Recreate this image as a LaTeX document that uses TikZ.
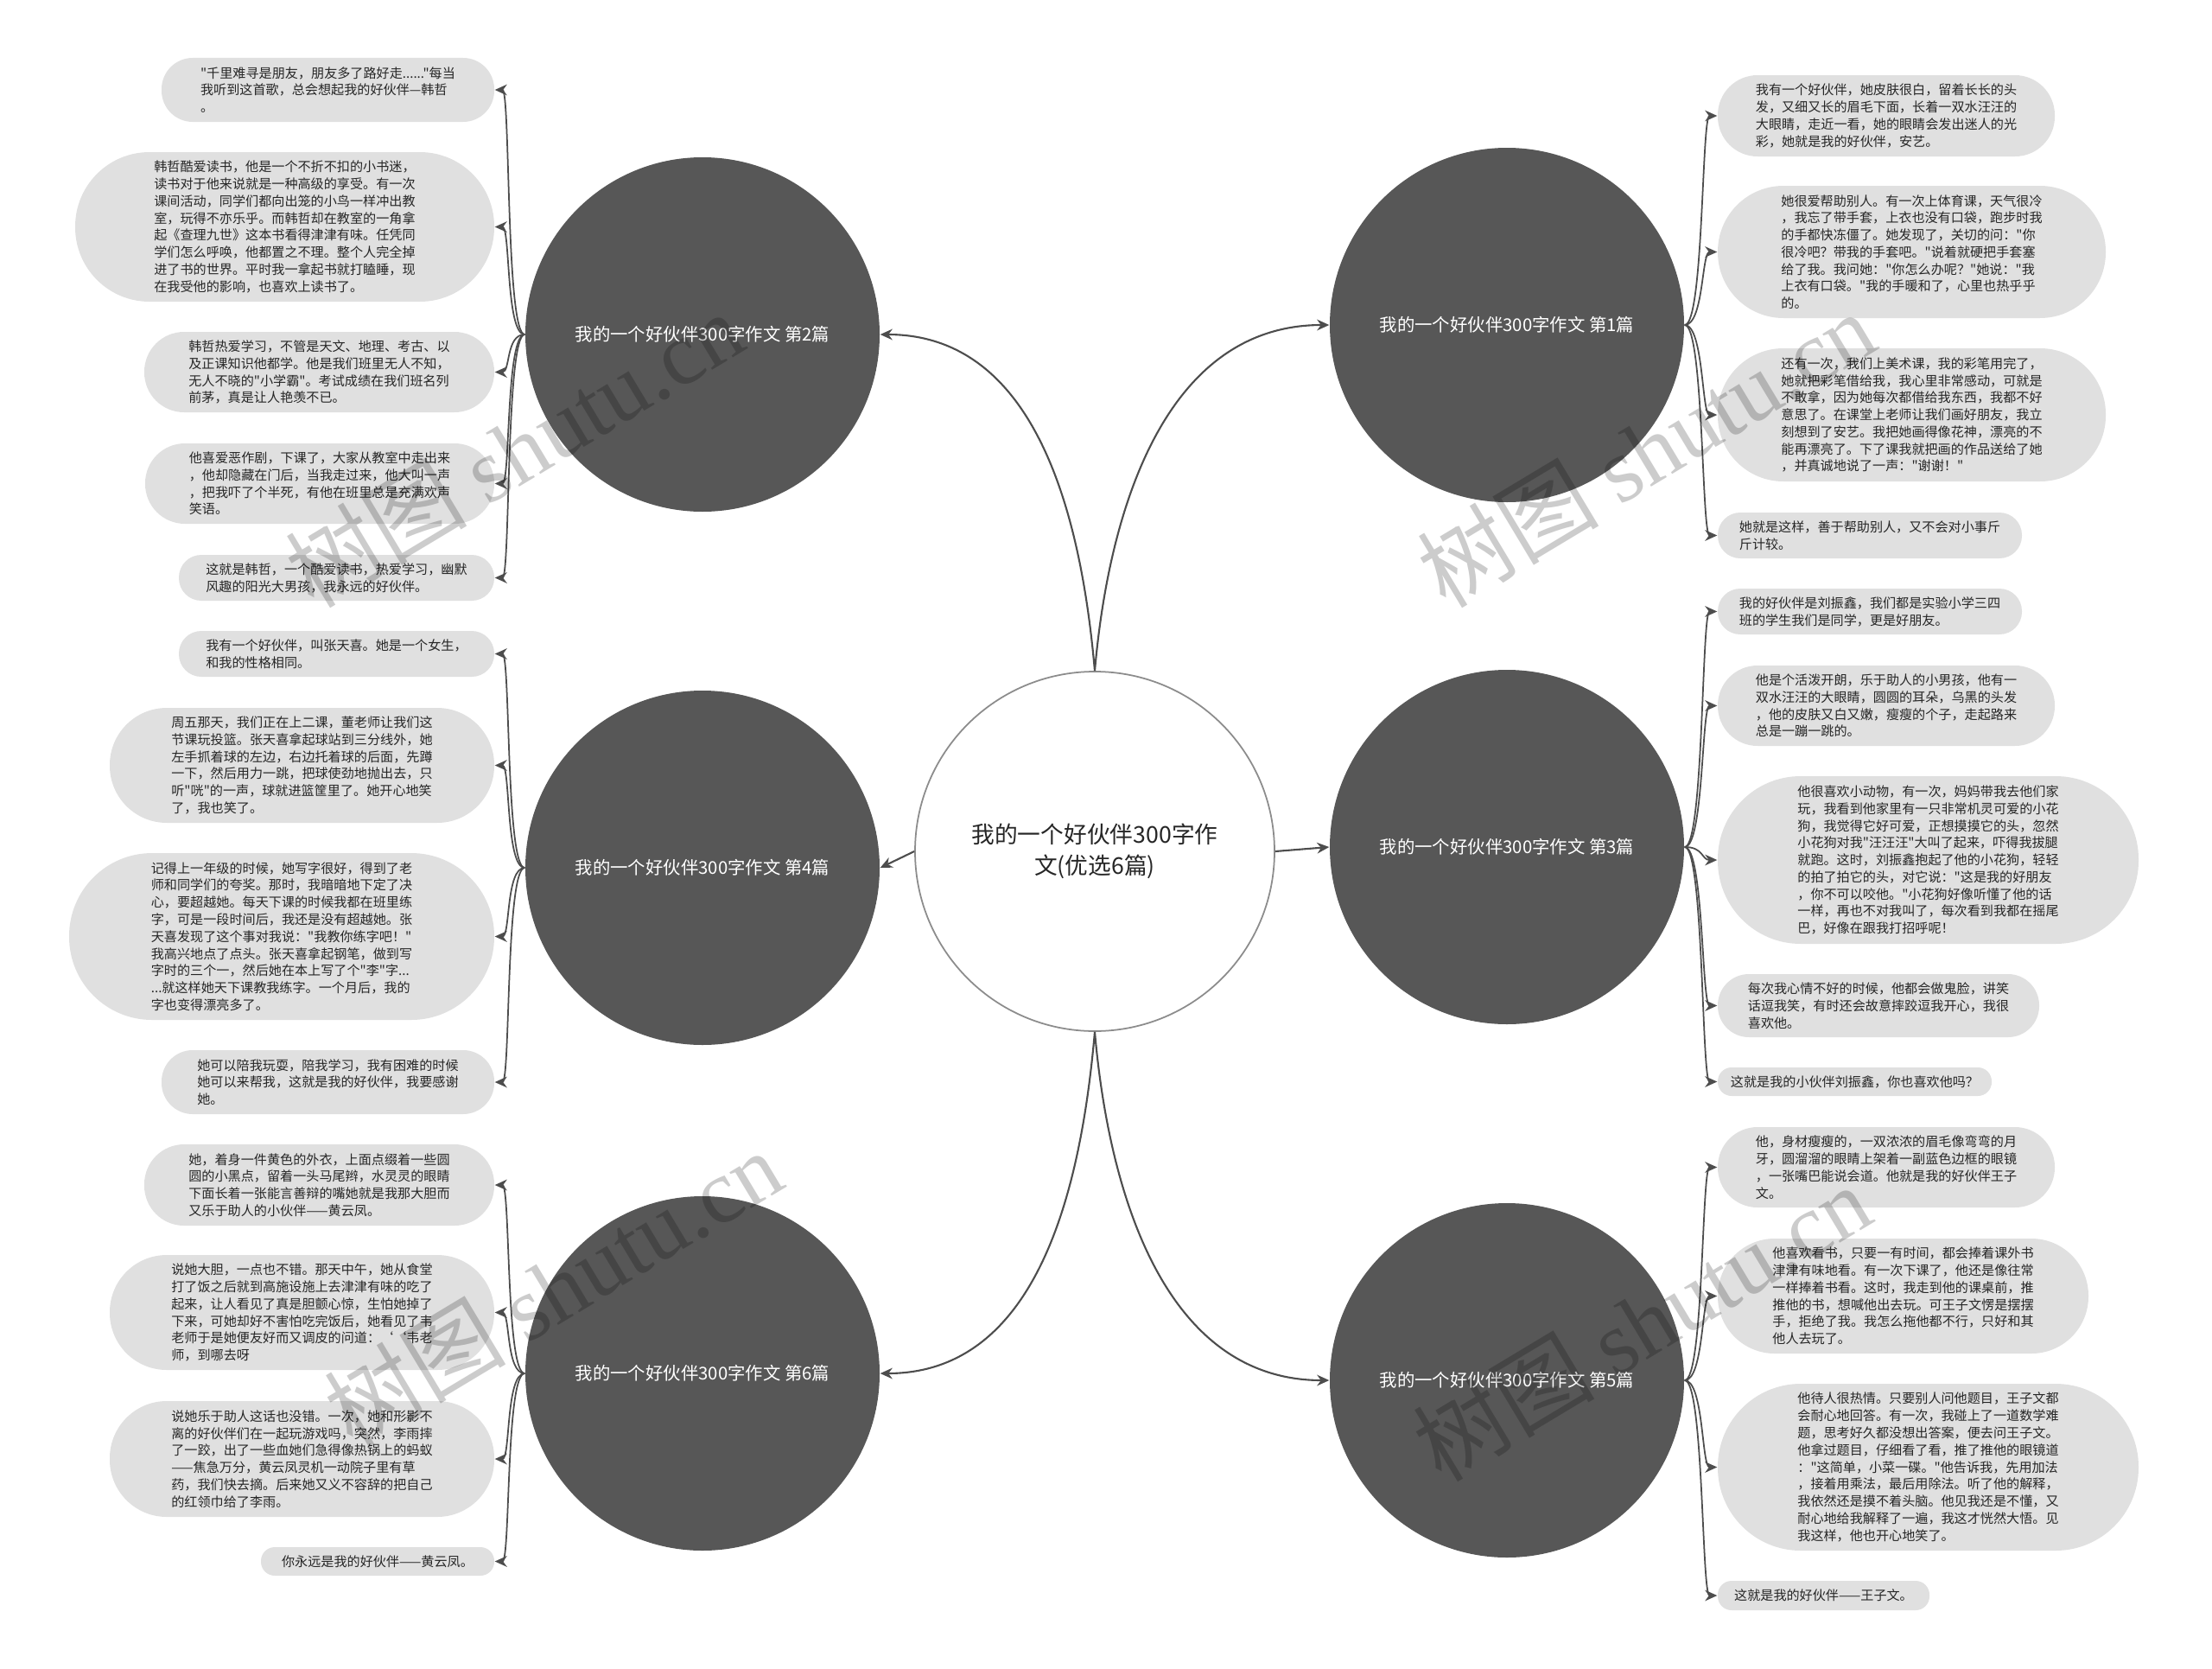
\documentclass[tikz,border=0pt]{standalone}
\usepackage{fontspec}
\newfontfamily\cjk{Noto Sans CJK SC}
\newfontfamily\wmserif{Liberation Serif}
\usepackage{tikz}
\usetikzlibrary{arrows.meta}
\definecolor{branchGray}{HTML}{575757}
\definecolor{leafBack}{HTML}{E0E0E0}
\definecolor{linkGray}{HTML}{4D4D4D}
\definecolor{textDark}{HTML}{262626}
\definecolor{rootFrame}{HTML}{8C8C8C}

\begin{document}
\begin{tikzpicture}[>={Stealth[length=4pt,width=3.6pt]}]
  \tikzstyle{rootNode}=[circle,draw=rootFrame,line width=0.5pt,fill=white,minimum size=4.16cm,align=center,text=textDark,font=\cjk\fontsize{7.6}{10.2}\selectfont]
  \tikzstyle{branchNode}=[circle,fill=branchGray,minimum size=4.1cm,text=white,font=\cjk\fontsize{5.8}{7}\selectfont]
  \tikzstyle{leafNode}=[fill=leafBack,inner sep=0pt,align=left,text=textDark,font=\cjk\fontsize{4.3}{5.63}\selectfont]
  \tikzstyle{mainLink}=[->,draw=linkGray,line width=0.6pt]
  \tikzstyle{leafLink}=[->,draw=linkGray,line width=0.5pt]
  \tikzstyle{waterMark}=[text=black,text opacity=0.2,font=\cjk\fontsize{30}{30}\selectfont,rotate=31]
  \useasboundingbox (0,0) rectangle (25.6,-19.31);

  % root and the six essays
  \node[rootNode] (root) at (12.67,-9.85) {我的一个好伙伴300字作\\文(优选6篇)};
  \node[branchNode] (b2) at (8.13,-3.87) {我的一个好伙伴300字作文 第2篇};
  \node[branchNode] (b4) at (8.13,-10.04) {我的一个好伙伴300字作文 第4篇};
  \node[branchNode] (b6) at (8.13,-15.89) {我的一个好伙伴300字作文 第6篇};
  \node[branchNode] (b1) at (17.44,-3.76) {我的一个好伙伴300字作文 第1篇};
  \node[branchNode] (b3) at (17.44,-9.80) {我的一个好伙伴300字作文 第3篇};
  \node[branchNode] (b5) at (17.44,-15.97) {我的一个好伙伴300字作文 第5篇};

  \draw[mainLink] (root.north) to[out=95,in=0] (b2.east);
  \draw[mainLink] (root.west) -- (b4.east);
  \draw[mainLink] (root.south) to[out=-95,in=0] (b6.east);
  \draw[mainLink] (root.north) to[out=85,in=180] (b1.west);
  \draw[mainLink] (root.east) -- (b3.west);
  \draw[mainLink] (root.south) to[out=-85,in=180] (b5.west);

  % left side paragraphs
  \node[leafNode,minimum width=3.85cm,minimum height=0.74cm,rounded corners=0.36cm] (l2a) at (3.795,-1.04) {"千里难寻是朋友，朋友多了路好走......"每当\\我听到这首歌，总会想起我的好伙伴—韩哲\\。};
  \node[leafNode,minimum width=4.85cm,minimum height=1.73cm,rounded corners=0.86cm] (l2b) at (3.295,-2.625) {韩哲酷爱读书，他是一个不折不扣的小书迷，\\读书对于他来说就是一种高级的享受。有一次\\课间活动，同学们都向出笼的小鸟一样冲出教\\室，玩得不亦乐乎。而韩哲却在教室的一角拿\\起《查理九世》这本书看得津津有味。任凭同\\学们怎么呼唤，他都置之不理。整个人完全掉\\进了书的世界。平时我一拿起书就打瞌睡，现\\在我受他的影响，也喜欢上读书了。};
  \node[leafNode,minimum width=4.05cm,minimum height=0.93cm,rounded corners=0.46cm] (l2c) at (3.695,-4.305) {韩哲热爱学习，不管是天文、地理、考古、以\\及正课知识他都学。他是我们班里无人不知，\\无人不晓的"小学霸"。考试成绩在我们班名列\\前茅，真是让人艳羡不已。};
  \node[leafNode,minimum width=4.04cm,minimum height=0.93cm,rounded corners=0.46cm] (l2d) at (3.70,-5.595) {他喜爱恶作剧，下课了，大家从教室中走出来\\，他却隐藏在门后，当我走过来，他大叫一声\\，把我吓了个半死，有他在班里总是充满欢声\\笑语。};
  \node[leafNode,minimum width=3.65cm,minimum height=0.53cm,rounded corners=0.26cm] (l2e) at (3.895,-6.685) {这就是韩哲，一个酷爱读书，热爱学习，幽默\\风趣的阳光大男孩，我永远的好伙伴。};

  \node[leafNode,minimum width=3.65cm,minimum height=0.53cm,rounded corners=0.26cm] (l4a) at (3.895,-7.565) {我有一个好伙伴，叫张天喜。她是一个女生，\\和我的性格相同。};
  \node[leafNode,minimum width=4.45cm,minimum height=1.33cm,rounded corners=0.66cm] (l4b) at (3.495,-8.855) {周五那天，我们正在上二课，董老师让我们这\\节课玩投篮。张天喜拿起球站到三分线外，她\\左手抓着球的左边，右边托着球的后面，先蹲\\一下，然后用力一跳，把球使劲地抛出去，只\\听"咣"的一声，球就进篮筐里了。她开心地笑\\了，我也笑了。};
  \node[leafNode,minimum width=4.92cm,minimum height=1.93cm,rounded corners=0.96cm] (l4c) at (3.26,-10.835) {记得上一年级的时候，她写字很好，得到了老\\师和同学们的夸奖。那时，我暗暗地下定了决\\心，要超越她。每天下课的时候我都在班里练\\字，可是一段时间后，我还是没有超越她。张\\天喜发现了这个事对我说："我教你练字吧！"\\我高兴地点了点头。张天喜拿起钢笔，做到写\\字时的三个一，然后她在本上写了个"李"字...\\...就这样她天下课教我练字。一个月后，我的\\字也变得漂亮多了。};
  \node[leafNode,minimum width=3.85cm,minimum height=0.74cm,rounded corners=0.36cm] (l4d) at (3.795,-12.52) {她可以陪我玩耍，陪我学习，我有困难的时候\\她可以来帮我，这就是我的好伙伴，我要感谢\\她。};

  \node[leafNode,minimum width=4.05cm,minimum height=0.94cm,rounded corners=0.46cm] (l6a) at (3.695,-13.71) {她，着身一件黄色的外衣，上面点缀着一些圆\\圆的小黑点，留着一头马尾辫，水灵灵的眼睛\\下面长着一张能言善辩的嘴她就是我那大胆而\\又乐于助人的小伙伴——黄云凤。};
  \node[leafNode,minimum width=4.45cm,minimum height=1.33cm,rounded corners=0.66cm] (l6b) at (3.495,-15.185) {说她大胆，一点也不错。那天中午，她从食堂\\打了饭之后就到高施设施上去津津有味的吃了\\起来，让人看见了真是胆颤心惊，生怕她掉了\\下来，可她却好不害怕吃完饭后，她看见了韦\\老师于是她便友好而又调皮的问道：‘‘韦老\\师，到哪去呀};
  \node[leafNode,minimum width=4.45cm,minimum height=1.34cm,rounded corners=0.66cm] (l6c) at (3.495,-16.88) {说她乐于助人这话也没错。一次，她和形影不\\离的好伙伴们在一起玩游戏吗，突然，李雨摔\\了一跤，出了一些血她们急得像热锅上的蚂蚁\\——焦急万分，黄云凤灵机一动院子里有草\\药，我们快去摘。后来她又义不容辞的把自己\\的红领巾给了李雨。};
  \node[leafNode,minimum width=2.70cm,minimum height=0.33cm,rounded corners=0.16cm] (l6d) at (4.37,-18.065) {你永远是我的好伙伴——黄云凤。};

  % right side paragraphs
  \node[leafNode,minimum width=3.90cm,minimum height=0.94cm,rounded corners=0.46cm] (r1a) at (21.83,-1.34) {我有一个好伙伴，她皮肤很白，留着长长的头\\发，又细又长的眉毛下面，长着一双水汪汪的\\大眼睛，走近一看，她的眼睛会发出迷人的光\\彩，她就是我的好伙伴，安艺。};
  \node[leafNode,minimum width=4.49cm,minimum height=1.53cm,rounded corners=0.76cm] (r1b) at (22.125,-2.915) {她很爱帮助别人。有一次上体育课，天气很冷\\，我忘了带手套，上衣也没有口袋，跑步时我\\的手都快冻僵了。她发现了，关切的问："你\\很冷吧？带我的手套吧。"说着就硬把手套塞\\给了我。我问她："你怎么办呢？"她说："我\\上衣有口袋。"我的手暖和了，心里也热乎乎\\的。};
  \node[leafNode,minimum width=4.49cm,minimum height=1.54cm,rounded corners=0.76cm] (r1c) at (22.125,-4.80) {还有一次，我们上美术课，我的彩笔用完了，\\她就把彩笔借给我，我心里非常感动，可就是\\不敢拿，因为她每次都借给我东西，我都不好\\意思了。在课堂上老师让我们画好朋友，我立\\刻想到了安艺。我把她画得像花神，漂亮的不\\能再漂亮了。下了课我就把画的作品送给了她\\，并真诚地说了一声："谢谢！"};
  \node[leafNode,minimum width=3.52cm,minimum height=0.53cm,rounded corners=0.26cm] (r1d) at (21.64,-6.195) {她就是这样，善于帮助别人，又不会对小事斤\\斤计较。};

  \node[leafNode,minimum width=3.52cm,minimum height=0.53cm,rounded corners=0.26cm] (r3a) at (21.64,-7.075) {我的好伙伴是刘振鑫，我们都是实验小学三四\\班的学生我们是同学，更是好朋友。};
  \node[leafNode,minimum width=3.90cm,minimum height=0.93cm,rounded corners=0.46cm] (r3b) at (21.83,-8.165) {他是个活泼开朗，乐于助人的小男孩，他有一\\双水汪汪的大眼睛，圆圆的耳朵，乌黑的头发\\，他的皮肤又白又嫩，瘦瘦的个子，走起路来\\总是一蹦一跳的。};
  \node[leafNode,minimum width=4.87cm,minimum height=1.94cm,rounded corners=0.96cm] (r3c) at (22.315,-9.95) {他很喜欢小动物，有一次，妈妈带我去他们家\\玩，我看到他家里有一只非常机灵可爱的小花\\狗，我觉得它好可爱，正想摸摸它的头，忽然\\小花狗对我"汪汪汪"大叫了起来，吓得我拔腿\\就跑。这时，刘振鑫抱起了他的小花狗，轻轻\\的拍了拍它的头，对它说："这是我的好朋友\\，你不可以咬他。"小花狗好像听懂了他的话\\一样，再也不对我叫了，每次看到我都在摇尾\\巴，好像在跟我打招呼呢！};
  \node[leafNode,minimum width=3.72cm,minimum height=0.73cm,rounded corners=0.36cm] (r3d) at (21.74,-11.635) {每次我心情不好的时候，他都会做鬼脸，讲笑\\话逗我笑，有时还会故意摔跤逗我开心，我很\\喜欢他。};
  \node[leafNode,minimum width=3.17cm,minimum height=0.33cm,rounded corners=0.16cm] (r3e) at (21.465,-12.515) {这就是我的小伙伴刘振鑫，你也喜欢他吗？};

  \node[leafNode,minimum width=3.90cm,minimum height=0.93cm,rounded corners=0.46cm] (r5a) at (21.83,-13.505) {他，身材瘦瘦的，一双浓浓的眉毛像弯弯的月\\牙，圆溜溜的眼睛上架着一副蓝色边框的眼镜\\，一张嘴巴能说会道。他就是我的好伙伴王子\\文。};
  \node[leafNode,minimum width=4.29cm,minimum height=1.33cm,rounded corners=0.66cm] (r5b) at (22.025,-14.995) {他喜欢看书，只要一有时间，都会捧着课外书\\津津有味地看。有一次下课了，他还是像往常\\一样捧着书看。这时，我走到他的课桌前，推\\推他的书，想喊他出去玩。可王子文愣是摆摆\\手，拒绝了我。我怎么拖他都不行，只好和其\\他人去玩了。};
  \node[leafNode,minimum width=4.87cm,minimum height=1.93cm,rounded corners=0.96cm] (r5c) at (22.315,-16.975) {他待人很热情。只要别人问他题目，王子文都\\会耐心地回答。有一次，我碰上了一道数学难\\题，思考好久都没想出答案，便去问王子文。\\他拿过题目，仔细看了看，推了推他的眼镜道\\："这简单，小菜一碟。"他告诉我，先用加法\\，接着用乘法，最后用除法。听了他的解释，\\我依然还是摸不着头脑。他见我还是不懂，又\\耐心地给我解释了一遍，我这才恍然大悟。见\\我这样，他也开心地笑了。};
  \node[leafNode,minimum width=2.45cm,minimum height=0.34cm,rounded corners=0.16cm] (r5d) at (21.105,-18.46) {这就是我的好伙伴——王子文。};

  % brackets to the paragraphs
  \foreach \p in {l2a,l2b,l2c,l2d,l2e}
    \draw[leafLink] (b2.west) .. controls +(-0.22,0) and +(0.18,0) .. (\p.east);
  \foreach \p in {l4a,l4b,l4c,l4d}
    \draw[leafLink] (b4.west) .. controls +(-0.22,0) and +(0.18,0) .. (\p.east);
  \foreach \p in {l6a,l6b,l6c,l6d}
    \draw[leafLink] (b6.west) .. controls +(-0.22,0) and +(0.18,0) .. (\p.east);
  \foreach \p in {r1a,r1b,r1c,r1d}
    \draw[leafLink] (b1.east) .. controls +(0.22,0) and +(-0.18,0) .. (\p.west);
  \foreach \p in {r3a,r3b,r3c,r3d,r3e}
    \draw[leafLink] (b3.east) .. controls +(0.22,0) and +(-0.18,0) .. (\p.west);
  \foreach \p in {r5a,r5b,r5c,r5d}
    \draw[leafLink] (b5.east) .. controls +(0.22,0) and +(-0.18,0) .. (\p.west);

  % watermarks
  \node[waterMark] (wm1) at (5.95,-5.2) {树图 {\wmserif shutu.cn}};
  \node[waterMark] (wm2) at (19.05,-5.2) {树图 {\wmserif shutu.cn}};
  \node[waterMark] (wm3) at (6.4,-14.9) {树图 {\wmserif shutu.cn}};
  \node[waterMark] (wm4) at (19.0,-15.3) {树图 {\wmserif shutu.cn}};
\end{tikzpicture}
\end{document}
